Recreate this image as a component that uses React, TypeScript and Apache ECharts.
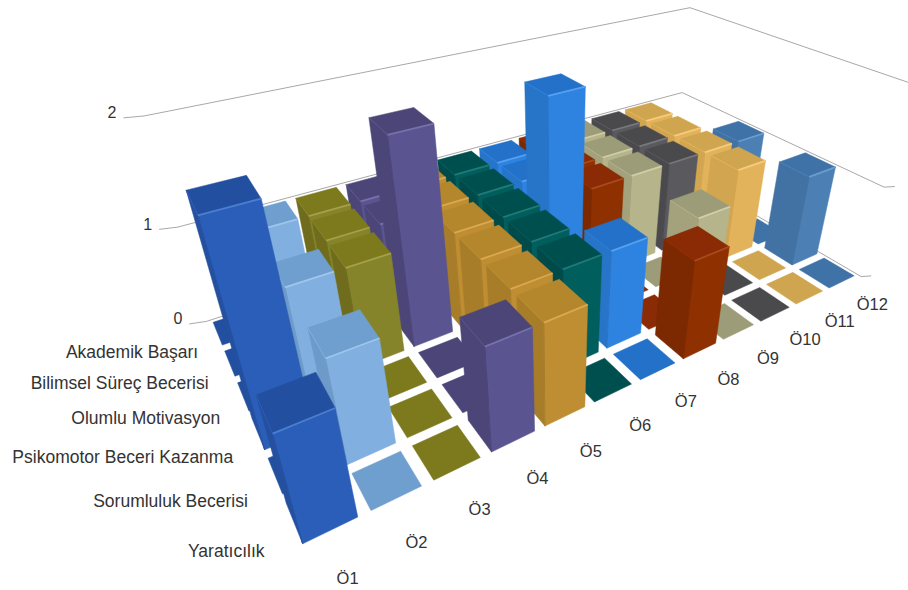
import React, { useEffect, useRef } from "react";
import * as echarts from "echarts";

const students = ["Ö1", "Ö2", "Ö3", "Ö4", "Ö5", "Ö6", "Ö7", "Ö8", "Ö9", "Ö10", "Ö11", "Ö12"];
const skills = [
  "Yaratıcılık",
  "Sorumluluk Becerisi",
  "Psikomotor Beceri Kazanma",
  "Olumlu Motivasyon",
  "Bilimsel Süreç Becerisi",
  "Akademik Başarı",
];
const valueTicks = [0, 1, 2];

// One list per skill, front row first.
const yaraticilik = [1, 0, 0, 1, 1, 0, 0, 1, 0, 0, 0, 0];
const sorumluluk = [0, 1, 0, 0, 1, 1, 1, 0, 1, 0, 0, 1];
const psikomotor = [2, 0, 0, 0, 1, 1, 0, 0, 0, 0, 1, 0];
const motivasyon = [0, 1, 1, 2, 1, 1, 2, 1, 1, 1, 1, 1];
const bilimsel = [0, 0, 1, 1, 1, 1, 1, 1, 1, 1, 1, 0];
const akademik = [0, 1, 1, 1, 1, 1, 1, 1, 1, 1, 1, 0];
const rows = [yaraticilik, sorumluluk, psikomotor, motivasyon, bilimsel, akademik];

const topColors = ["#224f9f", "#6f9fce", "#7d7a1e", "#4c4678", "#b5872c", "#004f4f", "#2371c8", "#8a2b05", "#9c9c78", "#4a4a4c", "#d0a550", "#3f73a8"];
const frontColors = ["#2b5eb8", "#80afe0", "#86842b", "#5a5490", "#bf8e32", "#005e5c", "#2e82e0", "#8f3000", "#b5b48a", "#5a5a5e", "#e3b35c", "#4c80b4"];
const sideColors = ["#24509f", "#6d9ac8", "#6f6d1d", "#4b4677", "#a87d2a", "#004a4a", "#2775c8", "#7c2800", "#a3a27c", "#4a4a4e", "#d2a550", "#4272a3"];
const edgeColors = ["#4a7fd0", "#a0c6ec", "#a3a148", "#7670ac", "#d9a850", "#1f7a78", "#55a0f0", "#a84a1a", "#cfcea6", "#77777c", "#f5cc7c", "#6b9dcc"];

const WIDTH = 908;
const HEIGHT = 590;
const HALF_BAR = 0.4;

// Camera fit: world anchors (column, row, value) paired with where they land on the canvas.
const anchors: [number, number, number, number, number][] = [
  [0, 6, 0, 208, 320],
  [12, 0, 0, 865, 276],
  [0, 6, 1, 177, 226],
  [12, 6, 1, 681, 94],
  [12, 0, 1, 887, 185],
  [0, 6, 2, 143, 113],
  [12, 6, 2, 690, 8],
  [12, 0, 2, 912, 83],
  [1.1, 0.1, 0, 372, 513],
  [1.9, 0.1, 0, 422, 485],
  [1.9, 0.9, 0, 400, 452],
  [1.1, 0.9, 0, 353, 480],
  [0.1, 0.1, 0, 300, 543],
  [0.9, 0.1, 0, 357, 517],
  [0.1, 0.1, 1, 272, 433],
  [0.9, 0.1, 1, 335, 405],
  [0.1, 0.9, 1, 257, 395],
  [0.9, 0.9, 1, 322, 373],
  [7.1, 0.1, 0, 683, 357],
  [7.9, 0.1, 0, 717, 343],
  [7.1, 0.1, 1, 689, 260],
  [7.9, 0.1, 1, 729, 247],
  [7.9, 0.9, 1, 697, 227],
  [7.1, 0.9, 1, 663, 240],
  [11.1, 1.1, 1, 808, 177],
  [11.9, 1.1, 1, 835, 168],
  [11.9, 1.9, 1, 805, 153],
  [11.1, 1.9, 1, 777, 163],
  [11.1, 1.1, 0, 793, 263],
  [11.9, 1.1, 0, 817, 253],
  [11.1, 0.1, 0, 818, 287],
  [11.9, 0.1, 0, 855, 274],
  [11.9, 0.9, 0, 830, 258],
  [11.1, 0.9, 0, 800, 273],
  [3.1, 3.1, 2, 385, 130],
  [3.9, 3.1, 2, 435, 123],
  [3.9, 3.9, 2, 413, 108],
  [3.1, 3.9, 2, 370, 118],
  [6.1, 3.1, 2, 550, 97],
  [6.9, 3.1, 2, 587, 88],
  [6.9, 3.9, 2, 562, 75],
  [6.1, 3.9, 2, 525, 82],
  [0.1, 2.9, 2, 187, 190],
  [0.9, 2.9, 2, 245, 175],
  [0.9, 2.1, 2, 262, 200],
  [0.1, 2.1, 2, 197, 218],
];

function solveLinear(m: number[][], b: number[]): number[] {
  const n = b.length;
  const a = m.map((r, i) => [...r, b[i]]);
  for (let i = 0; i < n; i++) {
    let p = i;
    for (let k = i + 1; k < n; k++) if (Math.abs(a[k][i]) > Math.abs(a[p][i])) p = k;
    [a[i], a[p]] = [a[p], a[i]];
    for (let k = i + 1; k < n; k++) {
      const f = a[k][i] / a[i][i];
      for (let j = i; j <= n; j++) a[k][j] -= f * a[i][j];
    }
  }
  const x = new Array(n).fill(0);
  for (let i = n - 1; i >= 0; i--) {
    let s = a[i][n];
    for (let j = i + 1; j < n; j++) s -= a[i][j] * x[j];
    x[i] = s / a[i][i];
  }
  return x;
}

function fitCamera(): number[] {
  const A: number[][] = [];
  const B: number[] = [];
  for (const [u, v, z, px, py] of anchors) {
    const x = px / 1000;
    const y = py / 1000;
    A.push([u, v, z, 1, 0, 0, 0, 0, -x * u, -x * v, -x * z]);
    B.push(x);
    A.push([0, 0, 0, 0, u, v, z, 1, -y * u, -y * v, -y * z]);
    B.push(y);
  }
  const N = A[0].length;
  const ata = Array.from({ length: N }, (_, i) =>
    Array.from({ length: N }, (_, j) => A.reduce((s, r) => s + r[i] * r[j], 0))
  );
  const atb = Array.from({ length: N }, (_, i) => A.reduce((s, r, k) => s + r[i] * B[k], 0));
  return solveLinear(ata, atb);
}

const cam = fitCamera();

function project(u: number, v: number, z: number): number[] {
  const w = cam[8] * u + cam[9] * v + cam[10] * z + 1;
  return [
    ((cam[0] * u + cam[1] * v + cam[2] * z + cam[3]) / w) * 1000,
    ((cam[4] * u + cam[5] * v + cam[6] * z + cam[7]) / w) * 1000,
  ];
}

// Axis scales: the hidden cartesian gives pixels, which become world units here.
function worldFrom(api: any, column: number, value: number): number[] {
  const p = api.coord([column, value]);
  return [(p[0] / WIDTH) * students.length, ((HEIGHT - p[1]) / HEIGHT) * valueTicks[2]];
}

const barData: number[][] = [];
for (let r = rows.length - 1; r >= 0; r--) {
  for (let c = students.length - 1; c >= 0; c--) {
    barData.push([c, rows[r][c], r]);
  }
}

function renderBar(_: any, api: any) {
  const c = api.value(0);
  const r = api.value(2);
  const [u, z] = worldFrom(api, c, api.value(1));
  const v = r + 0.5;
  const u0 = u - HALF_BAR;
  const u1 = u + HALF_BAR;
  const v0 = v - HALF_BAR;
  const v1 = v + HALF_BAR;
  const poly = (pts: number[][], fill: string) => ({
    type: "polygon",
    shape: { points: pts },
    style: { fill, stroke: fill, lineWidth: 0.5 },
  });
  const line = (pts: number[][], stroke: string, w: number) => ({
    type: "polyline",
    shape: { points: pts },
    style: { fill: "none", stroke, lineWidth: w },
  });
  const children: any[] = [];
  if (z > 0) {
    children.push(poly([project(u0, v0, 0), project(u0, v1, 0), project(u0, v1, z), project(u0, v0, z)], sideColors[c]));
    children.push(poly([project(u0, v0, 0), project(u1, v0, 0), project(u1, v0, z), project(u0, v0, z)], frontColors[c]));
    children.push(line([project(u0, v0, 0), project(u0, v0, z)], sideColors[c], 1));
  }
  children.push(poly([project(u0, v0, z), project(u1, v0, z), project(u1, v1, z), project(u0, v1, z)], topColors[c]));
  if (z > 0) {
    children.push(line([project(u0, v1, z), project(u0, v0, z)], frontColors[c], 1));
    children.push(line([project(u0, v0, z), project(u1, v0, z)], edgeColors[c], 1.8));
  }
  return { type: "group", children };
}

function renderGridLine(_: any, api: any) {
  const [, z] = worldFrom(api, 0, api.value(1));
  const n = students.length;
  const d = skills.length;
  return {
    type: "polyline",
    shape: {
      points: [project(-0.3, d + 0.1, z), project(0, d, z), project(n, d, z), project(n, 0, z), project(n + 0.2, -0.1, z)],
    },
    style: { fill: "none", stroke: "#a8a8a8", lineWidth: 1 },
  };
}

function renderValueLabel(params: any, api: any) {
  const [, z] = worldFrom(api, 0, api.value(1));
  const p = project(-0.3, skills.length + 0.1, z);
  return {
    type: "text",
    x: p[0] - 7,
    y: p[1] - 5,
    style: {
      text: String(valueTicks[params.dataIndex]),
      fill: "#333333",
      font: "16px 'Liberation Sans', Arial, sans-serif",
      textAlign: "right",
      textVerticalAlign: "middle",
    },
  };
}

function renderColumnLabel(params: any, api: any) {
  const [u] = worldFrom(api, api.value(0), 0);
  const p = project(u, -0.75, 0);
  return {
    type: "text",
    x: p[0] - 4,
    y: p[1] + 1,
    style: {
      text: students[params.dataIndex],
      fill: "#333333",
      font: "16.5px 'Liberation Sans', Arial, sans-serif",
      textAlign: "center",
      textVerticalAlign: "middle",
    },
  };
}

function renderRowLabel(params: any, _api: any) {
  const i = params.dataIndex;
  const p = project(-0.55, i + 0.5, 0);
  return {
    type: "text",
    x: p[0] + 17,
    y: p[1] + 6,
    style: {
      text: skills[i],
      fill: "#333333",
      font: "17.5px 'Liberation Sans', Arial, sans-serif",
      textAlign: "right",
      textVerticalAlign: "middle",
    },
  };
}

export default function App() {
  const ref = useRef<HTMLDivElement>(null);
  useEffect(() => {
    const chart = echarts.init(ref.current!, undefined, { renderer: "svg" });
    chart.setOption({
      animation: false,
      backgroundColor: "#ffffff",
      grid: { left: 0, right: 0, top: 0, bottom: 0 },
      xAxis: { type: "category", data: students, show: false },
      yAxis: { type: "value", min: 0, max: 2, interval: 1, show: false },
      series: [
        { type: "custom", silent: true, clip: false, renderItem: renderGridLine, data: valueTicks.map((t) => [0, t]), encode: { x: 0, y: 1 } },
        { type: "custom", silent: true, clip: false, renderItem: renderValueLabel, data: valueTicks.map((t) => [0, t]), encode: { x: 0, y: 1 } },
        { type: "custom", silent: true, clip: false, renderItem: renderBar, data: barData, encode: { x: 0, y: 1 } },
        { type: "custom", silent: true, clip: false, renderItem: renderColumnLabel, data: students.map((_, i) => [i, 0]), encode: { x: 0, y: 1 } },
        { type: "custom", silent: true, clip: false, renderItem: renderRowLabel, data: skills.map((_, i) => [0, i]), encode: { x: 0, y: 1 } },
      ],
    });
    return () => chart.dispose();
  }, []);
  return <div ref={ref} style={{ position: "fixed", left: 0, top: 0, width: WIDTH, height: HEIGHT }} />;
}
